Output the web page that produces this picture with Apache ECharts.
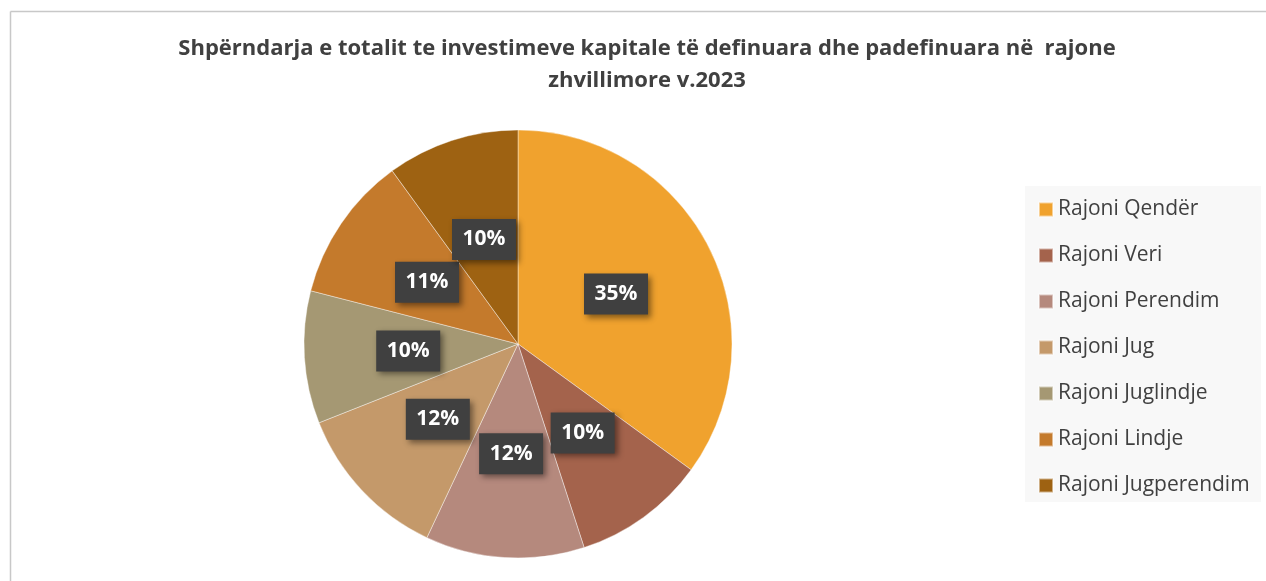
<!DOCTYPE html>
<html><head><meta charset="utf-8">
<script src="https://cdn.jsdelivr.net/npm/echarts@6/dist/echarts.min.js"></script>
<style>html,body{margin:0;padding:0;background:#fff;}#c{width:1266px;height:581px;}</style>
</head><body><div id="c"></div>
<script>
const categories = ['Rajoni Qendër','Rajoni Veri','Rajoni Perendim','Rajoni Jug','Rajoni Juglindje','Rajoni Lindje','Rajoni Jugperendim'];
const values = [35, 10, 12, 12, 10, 11, 10];
const colors = ['#F0A22E','#A4634C','#B5897D','#C4996A','#A59873','#C47A2C','#9E6212'];
const titleText = 'Shpërndarja e totalit te investimeve kapitale të definuara dhe padefinuara në  rajone\nzhvillimore v.2023';

const chart = echarts.init(document.getElementById('c'));
chart.setOption({
  animation: false,
  color: colors,
  title: {
    text: titleText, left: 642, top: 28, textAlign: 'center',
    textStyle: {fontFamily: 'Open Sans', fontWeight: 'bold', fontSize: 22, color: '#404040', lineHeight: 32}
  },
  graphic: [
    {type: 'line', shape: {x1: 10.5, y1: 11.5, x2: 1266, y2: 11.5}, style: {stroke: '#c8c8c8', lineWidth: 1.5}},
    {type: 'line', shape: {x1: 10.5, y1: 11.5, x2: 10.5, y2: 581}, style: {stroke: '#c8c8c8', lineWidth: 1.5}},
    {type: 'rect', shape: {x: 1025, y: 186, width: 236, height: 316}, style: {fill: '#f8f8f8'}, z: -1}
  ],
  legend: {
    orient: 'vertical', left: 1033, top: 194, itemGap: 25, itemWidth: 14, itemHeight: 14,
    icon: 'rect', data: categories,
    textStyle: {fontFamily: 'Open Sans', fontSize: 21, color: '#404040', lineHeight: 20}
  },
  series: [{
    type: 'pie', center: [518, 344], radius: 214, startAngle: 90, clockwise: true,
    data: categories.map((n, i) => ({name: n, value: values[i]})),
    itemStyle: {borderColor: 'rgba(255,255,255,0.5)', borderWidth: 0.8},
    label: {
      position: 'inside', formatter: '{d}%',
      fontFamily: 'Open Sans', fontWeight: 'bold', fontSize: 21, color: '#ffffff',
      backgroundColor: '#404040', width: 64, height: 41, align: 'center', verticalAlign: 'middle', lineHeight: 41,
      shadowColor: 'rgba(0,0,0,0.45)', shadowBlur: 6, shadowOffsetX: 3, shadowOffsetY: 3
    },
    labelLine: {show: false},
    emphasis: {disabled: true}
  }]
});
</script></body></html>
